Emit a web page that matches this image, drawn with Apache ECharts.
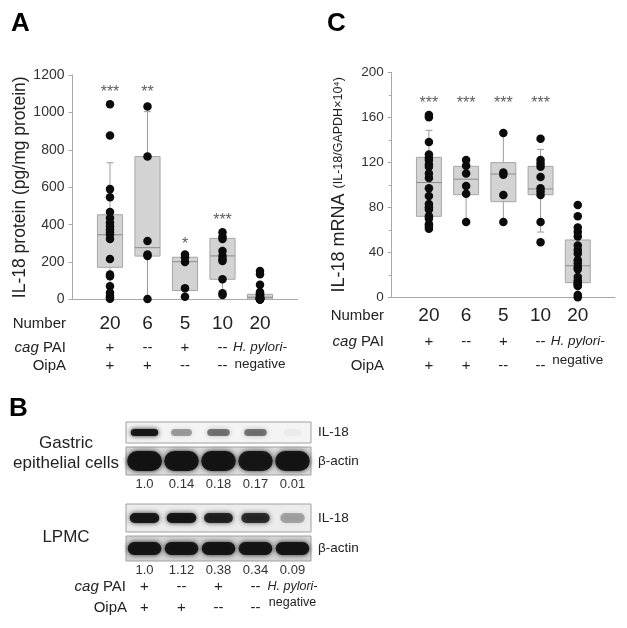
<!DOCTYPE html>
<html>
<head>
<meta charset="utf-8">
<script src="https://cdn.jsdelivr.net/npm/echarts@6/dist/echarts.min.js"></script>
<style>
html, body { margin: 0; padding: 0; background: #fff; }
#main { width: 627px; height: 628px; }
</style>
</head>
<body>
<div id="main"></div>
<script>
// 分组信息
const groupN = ['20', '6', '5', '10', '20'];
const cagPAI = ['+', '--', '+', '--'];
const oipA = ['+', '+', '--', '--'];

// A: IL-18 protein, [min, Q1, median, Q3, max]
const proteinBox = [
  [0, 172, 346, 453, 731],
  [3, 232, 277, 764, 1004],
  [15, 48, 202, 226, 240],
  [24, 108, 233, 327, 359],
  [0, 2, 12, 28, 80]
];
const proteinPts = [
  [1044, 876, 590, 546, 468, 436, 410, 391, 373, 360, 347, 323, 217, 133, 124, 71, 36, 20, 12, 4],
  [1031, 764, 313, 240, 232, 3],
  [240, 225, 200, 60, 15],
  [359, 336, 324, 259, 233, 215, 206, 108, 33, 24],
  [152, 135, 79, 40, 35, 30, 24, 20, 16, 12, 10, 8, 6, 5, 4, 3, 2, 1, 0, 0]
];
const proteinStars = ['***', '**', '*', '***', ''];
const proteinStarY = [1130, 1130, 313, 441, 0];

// C: IL-18 mRNA
const mrnaBox = [
  [61, 72, 102, 124.4, 148.4],
  [67, 91.2, 105, 116.4, 122],
  [67, 85, 109.6, 119.7, 147],
  [58, 91.2, 96.3, 116.4, 131.5],
  [0, 13, 28, 51, 63]
];
const mrnaPts = [
  [162, 160, 138, 127, 124, 122, 118, 116, 110, 106, 97, 90, 83, 80, 78, 72, 70, 65, 63, 61],
  [122, 117, 110, 99, 92, 67],
  [146, 111, 109, 91, 67],
  [141, 122, 119, 116, 107, 97, 94, 91, 67, 49],
  [82, 72, 62, 58, 54, 46, 42, 39, 33, 30, 27, 25, 18, 15, 13, 12, 11, 10, 2, 0]
];
const mrnaStars = ['***', '***', '***', '***', ''];
const mrnaStarY = [176, 176, 176, 176, 0];

// B: western blot 定量值 和 条带深浅
const gastricRatio = ['1.0', '0.14', '0.18', '0.17', '0.01'];
const lpmcRatio = ['1.0', '1.12', '0.38', '0.34', '0.09'];
const gastricIL18 = [0.95, 0.35, 0.5, 0.5, 0.04];
const gastricActin = [0.97, 0.95, 0.95, 0.93, 0.95];
const lpmcIL18 = [0.93, 0.95, 0.85, 0.8, 0.3];
const lpmcActin = [0.95, 0.95, 0.95, 0.95, 0.95];

const FONT = 'Liberation Sans, Arial, sans-serif';
const chart = echarts.init(document.getElementById('main'), null, { renderer: 'canvas' });

/**
 * 箱线图
 */
function renderBox(params, api) {
  const x = api.value(0);
  const pt = k => api.coord([x, api.value(k)]);
  const lo = pt(1), q1 = pt(2), md = pt(3), q3 = pt(4), hi = pt(5);
  const half = api.size([1, 0])[0] * 0.335;
  const cap = 3.5;
  const cx = lo[0];
  const ls = () => ({ stroke: '#9c9c9c', lineWidth: 1 });
  return {
    type: 'group',
    children: [
      { type: 'line', shape: { x1: cx, y1: lo[1], x2: cx, y2: q1[1] }, style: ls() },
      { type: 'line', shape: { x1: cx, y1: q3[1], x2: cx, y2: hi[1] }, style: ls() },
      { type: 'line', shape: { x1: cx - cap, y1: lo[1], x2: cx + cap, y2: lo[1] }, style: ls() },
      { type: 'line', shape: { x1: cx - cap, y1: hi[1], x2: cx + cap, y2: hi[1] }, style: ls() },
      { type: 'rect', shape: { x: cx - half, y: q3[1], width: half * 2, height: q1[1] - q3[1] }, style: { fill: '#d3d3d3', stroke: '#a6a6a6', lineWidth: 1 } },
      { type: 'line', shape: { x1: cx - half, y1: md[1], x2: cx + half, y2: md[1] }, style: { stroke: '#8a8a8a', lineWidth: 1 } }
    ]
  };
}

/**
 * 条带
 */
function bandRenderer(w0, dw, h) {
  return function (params, api) {
    const p = api.coord([api.value(0), 0]);
    const a = api.value(2);
    const w = w0 + dw * a;
    const c = 'rgba(18,18,18,' + a + ')';
    return {
      type: 'rect',
      shape: { x: p[0] - w / 2, y: p[1] - h / 2, width: w, height: h, r: h / 2 },
      style: { fill: c, shadowBlur: 5, shadowColor: c }
    };
  };
}

function groupLabel(nums, rows) {
  return function (v) {
    const i = v - 1;
    if (i < 0 || i > 4) return '';
    if (i === 4) return '{n|' + nums[i] + '}\n{h|H. pylori-}\n{g|negative}';
    return '{n|' + nums[i] + '}\n{c|' + rows[0][i] + '}\n{o|' + rows[1][i] + '}';
  };
}

function text(x, y, str, opts) {
  return {
    type: 'text', x: x, y: y, silent: true,
    style: Object.assign({
      text: str, fontFamily: FONT, fontSize: 15, fill: '#222',
      align: 'right', verticalAlign: 'middle', textAlign: 'right', textVerticalAlign: 'middle'
    }, opts || {})
  };
}

const italicRich = { i: { fontStyle: 'italic', fontFamily: FONT, fontSize: 15, fill: '#222', color: '#222' } };

const bgAxis = { lineStyle: { color: '#a8a8a8', width: 1 } };

const lanesX = (idx, data, show) => ({
  type: 'category', gridIndex: idx, data: data,
  axisLine: { show: false }, axisTick: { show: false }, splitLine: { show: false },
  axisLabel: { show: show, interval: 0, fontSize: 13, color: '#333', margin: 3 }
});
const rowY = (idx, name) => ({
  type: 'category', gridIndex: idx, data: [name], position: 'right',
  axisLine: { show: false }, axisTick: { show: false }, splitLine: { show: false },
  axisLabel: { fontSize: 13.5, color: '#222', margin: 7 }
});
const bandData = arr => arr.map((a, i) => [i, 0, a]);
const ptsData = arr => arr.flatMap((vals, i) => vals.map(v => [i + 1, v]));
const starData = (s, y) => s.map((t, i) => [i + 1, y[i], t]).filter(d => d[2]);

let option = {
  animation: false,
  textStyle: { fontFamily: FONT, color: '#222' },
  grid: [
    { left: 72.5, top: 75, width: 225, height: 224.5 },
    { left: 391.7, top: 72.3, width: 223.3, height: 225 },
    { left: 126, top: 422, width: 185, height: 21, show: true, backgroundColor: '#f4f4f4', borderColor: '#a0a0a0', borderWidth: 1 },
    { left: 126, top: 447, width: 185, height: 28, show: true, backgroundColor: '#dadada', borderColor: '#a0a0a0', borderWidth: 1 },
    { left: 126, top: 504, width: 185, height: 28, show: true, backgroundColor: '#ececec', borderColor: '#a0a0a0', borderWidth: 1 },
    { left: 126, top: 536, width: 185, height: 25, show: true, backgroundColor: '#d4d4d4', borderColor: '#a0a0a0', borderWidth: 1 }
  ],
  xAxis: [
    {
      type: 'value', gridIndex: 0, min: 0, max: 6, interval: 1,
      axisLine: bgAxis, axisTick: { show: false }, splitLine: { show: false },
      axisLabel: {
        margin: 12.5, verticalAlign: 'top', color: '#222',
        formatter: groupLabel(groupN, [cagPAI, oipA]),
        rich: {
          n: { fontSize: 19, lineHeight: 24, color: '#222' },
          c: { fontSize: 15, lineHeight: 23.4, color: '#222' },
          o: { fontSize: 15, lineHeight: 13.2, color: '#222' },
          h: { fontSize: 13.5, fontStyle: 'italic', lineHeight: 23.4, color: '#222' },
          g: { fontSize: 13.5, lineHeight: 9.2, color: '#222' }
        }
      }
    },
    {
      type: 'value', gridIndex: 1, min: 0, max: 6, interval: 1,
      axisLine: bgAxis, axisTick: { show: false }, splitLine: { show: false },
      axisLabel: {
        margin: 5.7, verticalAlign: 'top', color: '#222',
        formatter: groupLabel(groupN, [cagPAI, oipA]),
        rich: {
          n: { fontSize: 19, lineHeight: 26, color: '#222' },
          c: { fontSize: 15, lineHeight: 25.4, color: '#222' },
          o: { fontSize: 15, lineHeight: 23.2, color: '#222' },
          h: { fontSize: 13.5, fontStyle: 'italic', lineHeight: 25.4, color: '#222' },
          g: { fontSize: 13.5, lineHeight: 12.6, color: '#222' }
        }
      }
    },
    lanesX(2, gastricRatio, false),
    lanesX(3, gastricRatio, true),
    lanesX(4, lpmcRatio, false),
    Object.assign(lanesX(5, lpmcRatio, true), {
      axisLabel: {
        margin: 2, interval: 0, verticalAlign: 'top', color: '#333',
        formatter: function (v, i) {
          if (i === 4) return '{v|' + v + '}\n{h|H. pylori-}\n{g|negative}';
          return '{v|' + v + '}\n{c|' + cagPAI[i] + '}\n{o|' + oipA[i] + '}';
        },
        rich: {
          v: { fontSize: 13, lineHeight: 14, color: '#333' },
          c: { fontSize: 15, lineHeight: 20, color: '#222' },
          o: { fontSize: 15, lineHeight: 22, color: '#222' },
          h: { fontSize: 12.5, fontStyle: 'italic', lineHeight: 20, color: '#222' },
          g: { fontSize: 12.5, lineHeight: 12, color: '#222' }
        }
      }
    })
  ],
  yAxis: [
    {
      type: 'value', gridIndex: 0, min: 0, max: 1200, interval: 200,
      name: 'IL-18 protein (pg/mg protein)', nameLocation: 'middle', nameGap: 40,
      nameTextStyle: { fontSize: 17.5, color: '#222' },
      axisLine: { show: true, lineStyle: { color: '#a8a8a8' } },
      axisTick: { show: true, length: 4, lineStyle: { color: '#a8a8a8' } },
      splitLine: { show: false },
      axisLabel: { fontSize: 14, color: '#333', margin: 8, formatter: v => String(v) }
    },
    {
      type: 'value', gridIndex: 1, min: 0, max: 200, interval: 40,
      name: '{a|IL-18 mRNA }{b|(IL-18/GAPDH×10⁴)}', nameLocation: 'middle', nameGap: 44,
      nameTextStyle: {
        rich: {
          a: { fontSize: 18, color: '#222' },
          b: { fontSize: 12.5, color: '#222' }
        }
      },
      axisLine: { show: true, lineStyle: { color: '#a8a8a8' } },
      axisTick: { show: true, length: 4, lineStyle: { color: '#a8a8a8' } },
      minorTick: { show: true, splitNumber: 2, length: 3, lineStyle: { color: '#a8a8a8' } },
      splitLine: { show: false },
      axisLabel: { fontSize: 13.5, color: '#333', margin: 8 }
    },
    rowY(2, 'IL-18'),
    rowY(3, 'β-actin'),
    rowY(4, 'IL-18'),
    rowY(5, 'β-actin')
  ],
  series: [
    { type: 'custom', xAxisIndex: 0, yAxisIndex: 0, renderItem: renderBox, encode: { x: 0, y: [1, 2, 3, 4, 5] }, data: proteinBox.map((b, i) => [i + 1].concat(b)), z: 2 },
    { type: 'scatter', xAxisIndex: 0, yAxisIndex: 0, symbolSize: 8.5, itemStyle: { color: '#0b0b0b', opacity: 1 }, data: ptsData(proteinPts), z: 3 },
    {
      type: 'scatter', xAxisIndex: 0, yAxisIndex: 0, symbolSize: 1, itemStyle: { color: 'rgba(0,0,0,0)' },
      label: { show: true, position: 'inside', formatter: p => p.data[2], fontSize: 16, color: '#333', offset: [0, 4] },
      data: starData(proteinStars, proteinStarY), z: 4
    },
    { type: 'custom', xAxisIndex: 1, yAxisIndex: 1, renderItem: renderBox, encode: { x: 0, y: [1, 2, 3, 4, 5] }, data: mrnaBox.map((b, i) => [i + 1].concat(b)), z: 2 },
    { type: 'scatter', xAxisIndex: 1, yAxisIndex: 1, symbolSize: 8.5, itemStyle: { color: '#0b0b0b', opacity: 1 }, data: ptsData(mrnaPts), z: 3 },
    {
      type: 'scatter', xAxisIndex: 1, yAxisIndex: 1, symbolSize: 1, itemStyle: { color: 'rgba(0,0,0,0)' },
      label: { show: true, position: 'inside', formatter: p => p.data[2], fontSize: 16, color: '#333', offset: [0, 4] },
      data: starData(mrnaStars, mrnaStarY), z: 4
    },
    { type: 'custom', xAxisIndex: 2, yAxisIndex: 2, renderItem: bandRenderer(17, 11, 7), encode: { x: 0, y: 1 }, data: bandData(gastricIL18) },
    { type: 'custom', xAxisIndex: 3, yAxisIndex: 3, renderItem: bandRenderer(26, 9, 20), encode: { x: 0, y: 1 }, data: bandData(gastricActin) },
    { type: 'custom', xAxisIndex: 4, yAxisIndex: 4, renderItem: bandRenderer(22, 8, 10), encode: { x: 0, y: 1 }, data: bandData(lpmcIL18) },
    { type: 'custom', xAxisIndex: 5, yAxisIndex: 5, renderItem: bandRenderer(25, 9, 13), encode: { x: 0, y: 1 }, data: bandData(lpmcActin) }
  ],
  graphic: [
    text(11, 24, 'A', { fontSize: 26, fontWeight: 'bold', fill: '#000', align: 'left', textAlign: 'left' }),
    text(327, 24, 'C', { fontSize: 26, fontWeight: 'bold', fill: '#000', align: 'left', textAlign: 'left' }),
    text(9, 409, 'B', { fontSize: 26, fontWeight: 'bold', fill: '#000', align: 'left', textAlign: 'left' }),
    text(66, 324, 'Number'),
    text(66, 347.7, '{i|cag} PAI', { rich: italicRich }),
    text(66, 366, 'OipA'),
    text(384, 316, 'Number'),
    text(384, 341.7, '{i|cag} PAI', { rich: italicRich }),
    text(384, 366, 'OipA'),
    text(66, 443, 'Gastric', { fontSize: 17, align: 'center', textAlign: 'center' }),
    text(66, 463, 'epithelial cells', { fontSize: 17, align: 'center', textAlign: 'center' }),
    text(66, 537, 'LPMC', { fontSize: 17, align: 'center', textAlign: 'center' }),
    text(126, 587, '{i|cag} PAI', { rich: italicRich }),
    text(127, 608, 'OipA')
  ]
};
chart.setOption(option);
</script>
</body>
</html>
